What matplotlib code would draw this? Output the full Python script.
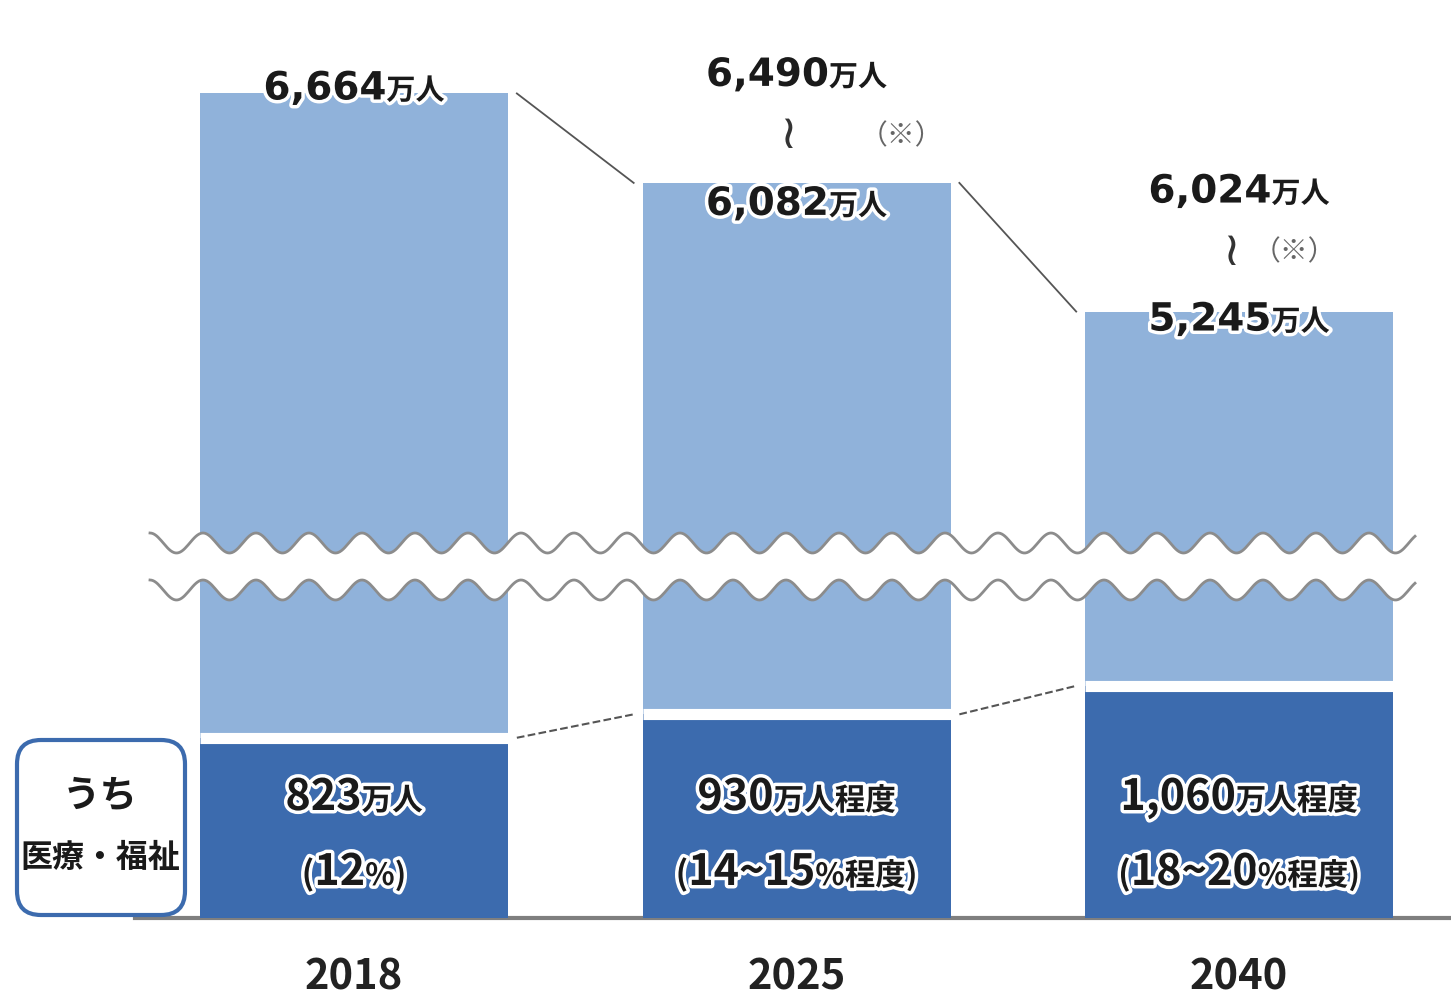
import numpy as np
import matplotlib
matplotlib.use("Agg")
import matplotlib.pyplot as plt
import matplotlib.patheffects as pe
from matplotlib.patches import FancyBboxPatch

# data (万人)
years = ["2018", "2025", "2040"]
workers_low = [6664, 6082, 5245]
workers_high = [None, 6490, 6024]
welfare = [823, 930, 1060]
welfare_unit = ["万人", "万人程度", "万人程度"]
share_text = ["12", "14~15", "18~20"]
share_unit = ["%)", "%程度)", "%程度)"]

LIGHT = "#90b2da"
DARK = "#3c6bae"
INK = "#1a1a1a"
NUM_FONT = ["DejaVu Sans", "Noto Sans CJK JP"]
JP_FONT = ["Noto Sans CJK JP", "DejaVu Sans"]
GLOW = [pe.withStroke(linewidth=5, foreground="white")]

fig = plt.figure(figsize=(14.51, 10), dpi=100)
ax_top = fig.add_axes([0, 0.435, 1, 0.565])
ax_low = fig.add_axes([0, 0.082, 1, 0.348])
renderer = fig.canvas.get_renderer()

x = np.arange(len(years))
w = 0.696
for ax in (ax_top, ax_low):
    ax.set_xlim(-0.8, 2.479)
    for s in ax.spines.values():
        s.set_visible(False)
    ax.set_yticks([])
ax_top.set_xticks([])
ax_top.set_ylim(3596, 7272)
ax_low.set_ylim(0, 1589)

# bars
ax_top.bar(x, workers_low, w, color=LIGHT, zorder=2)
light = [t - d for t, d in zip(workers_low, welfare)]
ax_low.bar(x, light, w, bottom=welfare, color=LIGHT, zorder=2)
ax_low.bar(x, welfare, w, color=DARK, zorder=2)
ax_low.hlines(welfare, x - w / 2, x + w / 2, color="white", lw=8, zorder=3)
ax_low.axhline(0, xmin=135 / 1451, color="#7f7f7f", lw=3, zorder=1, clip_on=False)

# connector lines
for i in range(len(x) - 1):
    ax_top.plot([x[i] + w / 2 + 0.02, x[i + 1] - w / 2 - 0.02],
                [workers_low[i], workers_low[i + 1]], color="#555555", lw=1.3, zorder=1)
    ax_low.plot([x[i] + w / 2 + 0.02, x[i + 1] - w / 2 - 0.02],
                [welfare[i], welfare[i + 1]], color="#555555", lw=1.5, ls="--", zorder=1)

ax_low.set_xticks(x)
ax_low.set_xticklabels(years, fontsize=30, fontweight="bold", color="#222222", family=JP_FONT)
ax_low.tick_params(axis="x", length=0, pad=28)


def rich_label(ax, xv, yv, pieces, dy):
    # pieces: (text, size, family); placed side by side, centred on xv
    texts, widths = [], []
    for s, size, fam in pieces:
        t = ax.annotate(s, (xv, yv), xytext=(0, dy), textcoords="offset pixels",
                        ha="left", va="baseline", fontsize=size, color=INK,
                        fontweight="bold", family=fam, path_effects=GLOW,
                        zorder=6, annotation_clip=False)
        texts.append(t)
        widths.append(t.get_window_extent(renderer).width)
    start = -sum(widths) / 2
    for t, wd in zip(texts, widths):
        t.xyann = (start, dy)
        start += wd


# top value labels
low_dy = [-6, -32, -19]
for i in range(len(x)):
    rich_label(ax_top, x[i], workers_low[i],
               [("{:,}".format(workers_low[i]), 28, NUM_FONT), ("万人", 21, JP_FONT)],
               low_dy[i])
high_dy = [None, 97, 109]
sq_dy = [None, 47, 59]
note_dx = [None, 105, 55]
for i in range(len(x)):
    if workers_high[i] is None:
        continue
    rich_label(ax_top, x[i], workers_low[i],
               [("{:,}".format(workers_high[i]), 28, NUM_FONT), ("万人", 21, JP_FONT)],
               high_dy[i])
    ax_top.annotate("≀", (x[i], workers_low[i]), xytext=(-8, sq_dy[i]),
                    textcoords="offset pixels", ha="center", va="center",
                    fontsize=34, color="#333333", family=NUM_FONT, zorder=6,
                    annotation_clip=False)
    ax_top.annotate("（※）", (x[i], workers_low[i]), xytext=(note_dx[i], sq_dy[i]),
                    textcoords="offset pixels", ha="center", va="center",
                    fontsize=20, color="#666666", family=JP_FONT, zorder=6,
                    annotation_clip=False)

# inner labels
for i in range(len(x)):
    rich_label(ax_low, x[i], 0,
               [("{:,}".format(welfare[i]), 31, JP_FONT), (welfare_unit[i], 22, JP_FONT)],
               108)
    rich_label(ax_low, x[i], 0,
               [("(", 24, JP_FONT), (share_text[i], 31, JP_FONT), (share_unit[i], 22, JP_FONT)],
               33)

# wavy break and side box
deco = fig.add_axes([0, 0, 1, 1], zorder=10)
deco.set_xlim(0, 1451)
deco.set_ylim(1000, 0)
deco.axis("off")
deco.patch.set_alpha(0)
xs = np.linspace(150, 1415, 800)
wave = -10 * np.cos(2 * np.pi * (xs - 150) / 53)
deco.fill_between(xs, 543 + wave, 590 + wave, color="white", lw=0)
deco.plot(xs, 543 + wave, color="#8c8c8c", lw=2)
deco.plot(xs, 590 + wave, color="#8c8c8c", lw=2)

box = FancyBboxPatch((17, 740), 168, 175, boxstyle="round,pad=0,rounding_size=24",
                     facecolor="white", edgecolor=DARK, lw=3)
deco.add_patch(box)
deco.text(100, 795, "うち", ha="center", va="center", fontsize=27, fontweight="bold",
          color=INK, family=JP_FONT)
deco.text(100, 858, "医療・福祉", ha="center", va="center", fontsize=23, fontweight="bold",
          color=INK, family=JP_FONT)

fig.savefig("out.png", dpi=100)
